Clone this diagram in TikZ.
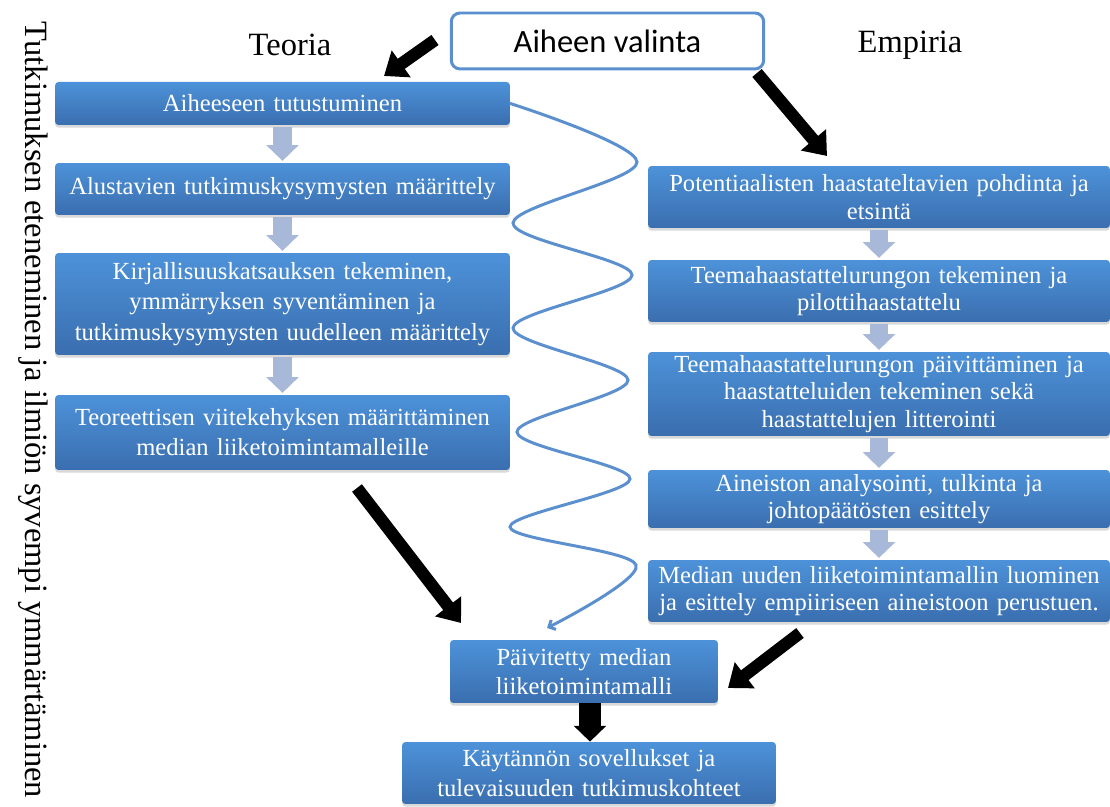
\documentclass[tikz,border=0pt]{standalone}
\usepackage{fontspec}
\setmainfont{Liberation Serif}
\newfontfamily\calibri{Carlito}
\usepackage{tikz}
\usetikzlibrary{arrows.meta,shadows}

\definecolor{boxtop}{HTML}{4D92D9}
\definecolor{boxbot}{HTML}{3A6EAF}
\definecolor{edgeblue}{HTML}{5B8FCE}
\definecolor{stepblue}{HTML}{A7B8D8}

\tikzset{
  box/.style={rounded corners=2pt, top color=boxtop, bottom color=boxbot,
    text=white, align=center, inner xsep=0.1cm, inner ysep=0pt,
    font=\fontsize{14}{16.5}\selectfont,
    drop shadow={shadow xshift=0pt, shadow yshift=-1.5pt, opacity=0.3}},
  lbox/.style={box, text width=8.9cm, font=\fontsize{14}{17}\selectfont},
  rbox/.style={box, text width=9.04cm, font=\fontsize{14}{15.5}\selectfont},
  steparrow/.style={line width=10.5pt, draw=stepblue, shorten <=1pt, shorten >=1pt,
    -{Triangle[length=9pt,width=18pt]}},
  bigarrow/.style={line width=7pt, -{Triangle[length=12pt,width=18pt]}},
  wave/.style={line width=1.7pt, draw=edgeblue, line cap=round,
    -{Straight Barb[length=3pt]}},
  heading/.style={font=\fontsize{18.5}{22}\selectfont}
}

\begin{document}
\begin{tikzpicture}[x=0.02cm, y=-0.02cm]
\useasboundingbox (0,0) rectangle (1110,807);

\node[heading, rotate=-90] (S) at (33,410) {Tutkimuksen eteneminen ja ilmiön syvempi ymmärtäminen};
\node[heading] (Teo) at (290,45) {Teoria};
\node[heading] (Emp) at (910,45) {Empiria};

\node[draw=edgeblue, line width=1.7pt, rounded corners=5pt, fill=white,
  minimum width=6.25cm, minimum height=1.12cm,
  font=\calibri\fontsize{18.5}{22}\selectfont] (A) at (607.5,41) {Aiheen valinta};

% teoria
\node[lbox, minimum height=0.86cm] (T1) at (282.5,103.5) {Aiheeseen tutustuminen};
\node[lbox, minimum height=1.04cm] (T2) at (282.5,189) {Alustavien tutkimuskysymysten määrittely};
\node[lbox, minimum height=2.04cm, font=\fontsize{14}{17.5}\selectfont] (T3) at (282.5,304)
  {Kirjallisuuskatsauksen tekeminen,\\ ymmärryksen syventäminen ja\\ tutkimuskysymysten uudelleen määrittely};
\node[lbox, minimum height=1.5cm] (T4) at (282.5,432.5)
  {Teoreettisen viitekehyksen määrittäminen\\ median liiketoimintamalleille};

% empiria
\node[rbox, minimum height=1.24cm] (E1) at (879,197)
  {Potentiaalisten haastateltavien pohdinta ja\\ etsintä};
\node[rbox, minimum height=1.24cm] (E2) at (879,291)
  {Teemahaastattelurungon tekeminen ja\\ pilottihaastattelu};
\node[rbox, minimum height=1.68cm] (E3) at (879,394)
  {Teemahaastattelurungon päivittäminen ja\\ haastatteluiden tekeminen sekä\\ haastattelujen litterointi};
\node[rbox, minimum height=1.16cm] (E4) at (879,499)
  {Aineiston analysointi, tulkinta ja\\ johtopäätösten esittely};
\node[rbox, minimum height=1.24cm] (E5) at (879,591)
  {Median uuden liiketoimintamallin luominen\\ ja esittely empiiriseen aineistoon perustuen.};

% tulos
\node[box, text width=5.16cm, minimum height=1.26cm] (P) at (584,671.5)
  {Päivitetty median\\ liiketoimintamalli};
\node[box, text width=7.28cm, minimum height=1.24cm, font=\fontsize{14}{17}\selectfont] (K) at (589,773)
  {Käytännön sovellukset ja\\ tulevaisuuden tutkimuskohteet};

\draw [steparrow] (T1) -- (T2);
\draw [steparrow] (T2) -- (T3);
\draw [steparrow] (T3) -- (T4);
\draw [steparrow] (E1) -- (E2);
\draw [steparrow] (E2) -- (E3);
\draw [steparrow] (E3) -- (E4);
\draw [steparrow] (E4) -- (E5);

\coordinate (a1) at (435,40);
\coordinate (b1) at (384,76);
\coordinate (a2) at (757,73);
\coordinate (b2) at (827,156);
\coordinate (a3) at (357,488);
\coordinate (b3) at (461,623);
\coordinate (a4) at (800,633);
\coordinate (b4) at (728,688);
\draw [bigarrow] (a1) -- (b1);
\draw [bigarrow] (a2) -- (b2);
\draw [bigarrow] (a3) -- (b3);
\draw [bigarrow] (a4) -- (b4);
\draw [bigarrow, line width=12pt, -{Triangle[length=9pt,width=18pt]}]
  (P.south -| 590,0) -- (K.north -| 590,0);

\coordinate (W) at (547,628);
\draw [wave] plot [smooth, tension=0.55] coordinates {(T1.east) (637,162) (513,223)
  (632,275) (513,328) (628,380) (517,432) (630,479) (510,527) (636,565) (W)};
\end{tikzpicture}
\end{document}
